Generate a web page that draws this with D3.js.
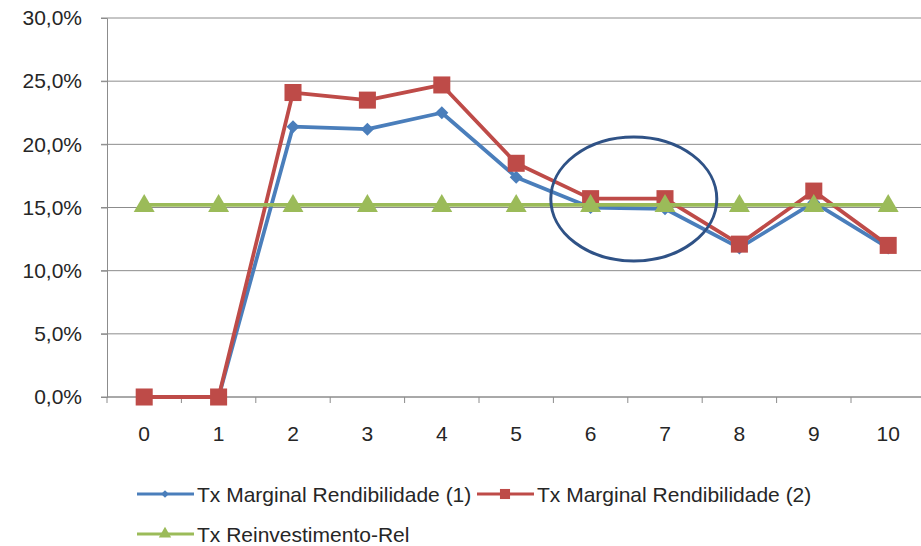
<!DOCTYPE html>
<html>
<head>
<meta charset="utf-8">
<script src="https://cdn.jsdelivr.net/npm/d3@7"></script>
<style>
  html, body { margin: 0; padding: 0; background: #fff; }
  svg { display: block; }
  text { font-family: "Liberation Sans", Arial, sans-serif; fill: #262626; }
</style>
</head>
<body>
<svg id="chart" width="921" height="546"></svg>
<script>
// Periods on the horizontal axis
const periods = ["0", "1", "2", "3", "4", "5", "6", "7", "8", "9", "10"];
// Marginal rates of return and reinvestment rate (in %)
const marginal1 = [0, 0, 21.4, 21.2, 22.5, 17.4, 15.0, 14.9, 11.8, 15.4, 11.8];
const marginal2 = [0, 0, 24.1, 23.5, 24.7, 18.5, 15.7, 15.7, 12.1, 16.3, 12.0];
const reinvest  = [15.2, 15.2, 15.2, 15.2, 15.2, 15.2, 15.2, 15.2, 15.2, 15.2, 15.2];
const yTicks = [0, 5, 10, 15, 20, 25, 30];
const seriesNames = ["Tx Marginal Rendibilidade (1)", "Tx Marginal Rendibilidade (2)", "Tx Reinvestimento-Rel"];

const svg = d3.select("#chart");
const plotLeft = 107, plotTop = 18, plotBottom = 397;
const step = 74.4;
const plotRight = plotLeft + step * periods.length;
const fontSize = 21;

const x = d3.scaleBand().domain(periods).range([plotLeft, plotRight]);
const y = d3.scaleLinear().domain([0, 30]).range([plotBottom, plotTop]);
const cx = p => x(p) + x.bandwidth() / 2;

const gridColor = "#8c8c8c";

// Horizontal gridlines
svg.append("g").selectAll("line").data(yTicks).join("line")
  .attr("x1", plotLeft - 6).attr("x2", plotRight)
  .attr("y1", d => y(d)).attr("y2", d => y(d))
  .attr("stroke", gridColor).attr("stroke-width", 1);

// Y axis
const yAxis = d3.axisLeft(y).tickValues(yTicks).tickSize(6).tickPadding(19)
  .tickFormat(d => d3.format(".1f")(d).replace(".", ",") + "%");
const gy = svg.append("g").attr("transform", `translate(${plotLeft},0)`).call(yAxis);
gy.select(".domain").attr("stroke", gridColor);
gy.selectAll(".tick line").attr("stroke", gridColor);
gy.selectAll("text").attr("font-size", fontSize).attr("fill", "#262626")
  .style("font-family", "'Liberation Sans', Arial, sans-serif");

// X axis with ticks between categories
const gx = svg.append("g").attr("transform", `translate(0,${plotBottom})`);
gx.append("line").attr("x1", plotLeft).attr("x2", plotRight).attr("y1", 0).attr("y2", 0)
  .attr("stroke", gridColor);
const bounds = periods.map(p => x(p)).concat([plotRight]);
gx.selectAll("line.tk").data(bounds).join("line").attr("class", "tk")
  .attr("x1", d => d).attr("x2", d => d).attr("y1", 0).attr("y2", 6)
  .attr("stroke", gridColor);
gx.selectAll("text").data(periods).join("text")
  .attr("x", d => cx(d)).attr("y", 44)
  .attr("text-anchor", "middle").attr("font-size", fontSize)
  .text(d => d);

const series = [
  { name: seriesNames[0], values: marginal1, color: "#4a7ebb", marker: "diamond" },
  { name: seriesNames[1], values: marginal2, color: "#be4b48", marker: "square" },
  { name: seriesNames[2], values: reinvest,  color: "#9bbb59", marker: "triangle" }
];

const symbolFor = m => m === "triangle" ? d3.symbolTriangle : d3.symbolSquare;
const sizeFor = m => m === "diamond" ? 85 : m === "square" ? 290 : 190;
const rotFor = m => m === "diamond" ? 45 : 0;

const line = d3.line().x((d, i) => cx(periods[i])).y(d => y(d));

series.forEach(s => {
  const g = svg.append("g");
  g.append("path").datum(s.values).attr("d", line)
    .attr("fill", "none").attr("stroke", s.color).attr("stroke-width", 3.8)
    .attr("stroke-linejoin", "round");
  g.selectAll("path.m").data(s.values).join("path").attr("class", "m")
    .attr("transform", (d, i) => `translate(${cx(periods[i])},${y(d) + (s.marker === "triangle" ? 1 : 0)}) rotate(${rotFor(s.marker)})`)
    .attr("d", d3.symbol().type(symbolFor(s.marker)).size(sizeFor(s.marker)))
    .attr("fill", s.color);
});

// Highlight ellipse around periods 6-7
svg.append("ellipse")
  .attr("cx", (cx("6") + cx("7")) / 2 + 6).attr("cy", y(15.2) - 6)
  .attr("rx", 83).attr("ry", 62)
  .attr("fill", "none").attr("stroke", "#2f5286").attr("stroke-width", 3);

// Legend
const legendItems = [
  { s: series[0], x: 137, y: 494 },
  { s: series[1], x: 477, y: 494 },
  { s: series[2], x: 137, y: 534 }
];
const lg = svg.append("g");
legendItems.forEach(it => {
  const g = lg.append("g").attr("transform", `translate(${it.x},${it.y})`);
  g.append("line").attr("x1", 0).attr("x2", 57).attr("y1", 0).attr("y2", 0)
    .attr("stroke", it.s.color).attr("stroke-width", 3);
  g.append("path").attr("transform", `translate(28,0) rotate(${rotFor(it.s.marker)})`)
    .attr("d", d3.symbol().type(symbolFor(it.s.marker)).size(sizeFor(it.s.marker) * 0.35))
    .attr("fill", it.s.color);
  g.append("text").attr("x", 60).attr("y", 7.5).attr("font-size", fontSize).text(it.s.name);
});
</script>
</body>
</html>
